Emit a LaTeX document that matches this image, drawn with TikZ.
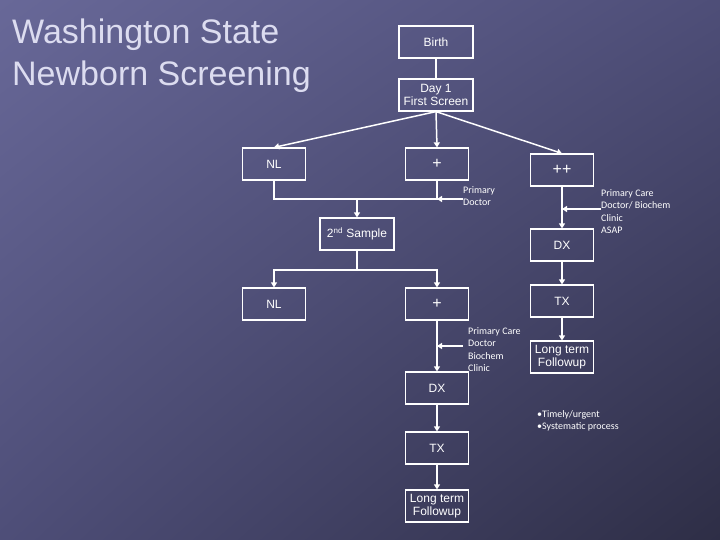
\documentclass[tikz,border=0pt]{standalone}
\usepackage{fontspec}
\setmainfont{Liberation Sans}
\newfontfamily\smallf{Carlito}
\usetikzlibrary{arrows.meta,shadings}
\definecolor{bgA}{RGB}{104,104,152}
\definecolor{bgB}{RGB}{78,78,120}
\definecolor{bgC}{RGB}{46,46,70}
\definecolor{titlec}{RGB}{220,220,240}
\begin{document}
\begin{tikzpicture}[x=1pt,y=-1pt,
  bx/.style={draw=white,line width=1.2pt,minimum width=63pt,minimum height=32pt,inner sep=1pt,text=white,font=\fontsize{12}{13}\selectfont,align=center},
  ln/.style={draw=white,line width=1.5pt},
  ar/.style={ln,-{Triangle[width=6pt,length=5pt]}},
  lbl/.style={text=white,font=\smallf\fontsize{10}{12.5}\selectfont,align=left,anchor=north west,inner sep=0pt}]
\path[use as bounding box] (0,0) rectangle (720,540);
\shade[upper left=bgA,upper right=bgB,lower left=bgB,lower right=bgC] (0,0) rectangle (720,540);
\node[text=titlec,anchor=west,font=\fontsize{34}{42}\selectfont,align=left,inner sep=0pt] (title) at (12,56) {Washington State\\Newborn Screening};
\node[bx,minimum width=74pt] (birth) at (436,42) {Birth};
\node[bx,minimum width=74pt] (day1) at (436,95) {Day 1\\First Screen};
\node[bx] (nl1) at (274,164) {NL};
\node[bx,font=\fontsize{16}{16}\selectfont] (p1) at (437,164) {+};
\node[bx,font=\fontsize{16}{16}\selectfont] (pp) at (562,170) {++};
\node[bx,minimum width=74pt] (s2) at (357,234) {2\textsuperscript{nd} Sample};
\node[bx] (nl2) at (274,304) {NL};
\node[bx,font=\fontsize{16}{16}\selectfont] (p2) at (437,304) {+};
\node[bx] (dxr) at (562,245) {DX};
\node[bx] (txr) at (562,301) {TX};
\node[bx] (ltr) at (562,357) {Long term\\Followup};
\node[bx] (dxl) at (437,388) {DX};
\node[bx] (txl) at (437,448) {TX};
\node[bx] (ltl) at (437,506) {Long term\\Followup};
\draw[ln] (birth.south) -- (day1.north);
\draw[ar] (day1.south) -- (nl1.north);
\draw[ar] (day1.south) -- (p1.north);
\draw[ar] (day1.south) -- (pp.north);
\coordinate (j1) at (357,199);
\draw[ln] (nl1.south) |- (j1) -| (p1.south);
\draw[ar] (j1) -- (s2.north);
\coordinate (j2) at (357,270);
\draw[ln] (s2.south) -- (j2);
\draw[ar] (j2) -| (nl2.north);
\draw[ar] (j2) -| (p2.north);
\draw[ar] (p2.south) -- (dxl.north);
\draw[ar] (dxl.south) -- (txl.north);
\draw[ar] (txl.south) -- (ltl.north);
\draw[ar] (pp.south) -- (dxr.north);
\draw[ar] (dxr.south) -- (txr.north);
\draw[ar] (txr.south) -- (ltr.north);
\node[lbl] (t1) at (463,186) {Primary\\Doctor};
\node[lbl] (t2) at (601,189) {Primary Care\\Doctor/ Biochem\\Clinic\\ASAP};
\node[lbl] (t3) at (468,327) {Primary Care\\Doctor\\Biochem\\Clinic};
\coordinate (a1) at (463,199); \coordinate (b1) at (437,199);
\coordinate (a2) at (601,209); \coordinate (b2) at (562,209);
\coordinate (a3) at (463,346); \coordinate (b3) at (437,346);
\draw[ar] (a1) -- (b1);
\draw[ar] (a2) -- (b2);
\draw[ar] (a3) -- (b3);
\node[lbl] (bul) at (537,410) {\textbullet Timely/urgent\\\textbullet Systematic process};
\end{tikzpicture}
\end{document}
